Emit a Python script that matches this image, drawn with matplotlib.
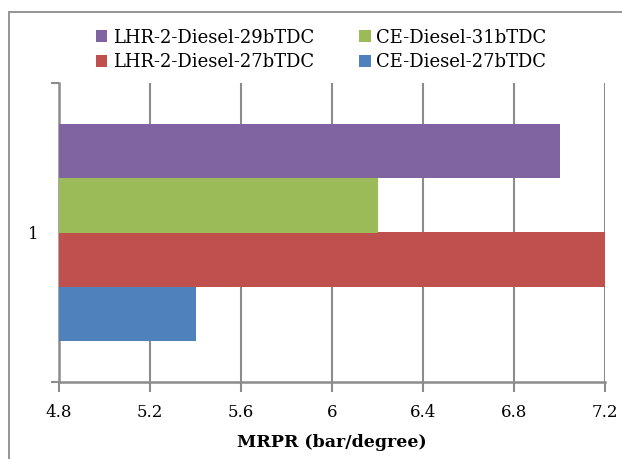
import numpy as np
import matplotlib.pyplot as plt
from matplotlib.patches import Rectangle

# data
series = ['CE-Diesel-27bTDC', 'LHR-2-Diesel-27bTDC', 'CE-Diesel-31bTDC', 'LHR-2-Diesel-29bTDC']
values = [5.4, 7.2, 6.2, 7.0]
colors = ['#4F81BD', '#C0504D', '#9BBB59', '#8064A2']
category = [1]
xticks = [4.8, 5.2, 5.6, 6.0, 6.4, 6.8, 7.2]
xticklabels = ['4.8', '5.2', '5.6', '6', '6.4', '6.8', '7.2']

plt.rcParams['font.family'] = ['DejaVu Serif']

fig = plt.figure(figsize=(6.22, 4.59), dpi=100)
ax = fig.add_axes([59/622, 1-382/459, (605-59)/622, (382-83)/459])

# outer chart border
fig.patches.append(Rectangle((9/622, -0.1), 1.2, 1-12/459+0.1, transform=fig.transFigure,
                             fill=False, edgecolor='#8c8c8c', linewidth=1.3))

h = 0.182
offsets = np.array([-1.5, -0.5, 0.5, 1.5]) * h
handles = {}
for s, v, c, off in zip(series, values, colors, offsets):
    b = ax.barh(category[0] + off, v, height=h, color=c, left=0, zorder=3)
    handles[s] = b

ax.set_xlim(4.8, 7.2)
ax.set_ylim(0.5, 1.5)
ax.set_xticks(xticks)
ax.set_xticklabels(xticklabels, fontsize=12)
ax.set_yticks(category)
ax.set_yticklabels(['1'], fontsize=12)
ax.set_yticks([0.5, 1.5], minor=True)
ax.tick_params(axis='y', which='major', length=0, pad=15)
ax.tick_params(axis='y', which='minor', length=6, width=1.5, color='#8c8c8c', direction='out')
ax.tick_params(axis='x', length=7, width=1.5, color='#8c8c8c', direction='out', pad=9)

ax.grid(axis='x', color='#8c8c8c', linewidth=1.5, zorder=0)
ax.set_axisbelow(True)
for side in ['top', 'right']:
    ax.spines[side].set_visible(False)
for side in ['left', 'bottom']:
    ax.spines[side].set_color('#8c8c8c')
    ax.spines[side].set_linewidth(1.8)

ax.set_xlabel('MRPR (bar/degree)', fontsize=12.5, fontweight='bold', labelpad=9)

order = ['LHR-2-Diesel-29bTDC', 'LHR-2-Diesel-27bTDC', 'CE-Diesel-31bTDC', 'CE-Diesel-27bTDC']
fig.legend([handles[s] for s in order], order, ncol=2, loc='center',
           bbox_to_anchor=(321/622, 1-50/459), frameon=False, fontsize=13,
           handlelength=0.65, handleheight=0.65, handletextpad=0.3,
           columnspacing=2.5, labelspacing=0.38, borderaxespad=0)

fig.savefig('out.png', dpi=100)
